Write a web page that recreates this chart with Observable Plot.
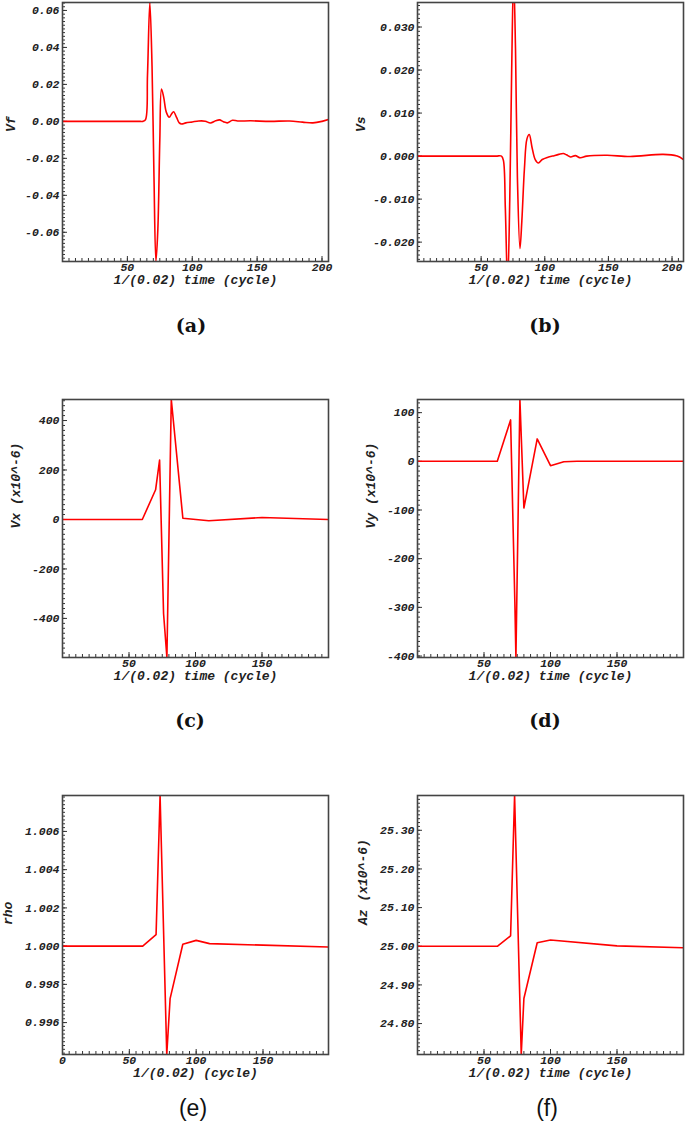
<!DOCTYPE html>
<html>
<head>
<meta charset="utf-8">
<script src="https://cdn.jsdelivr.net/npm/d3@7"></script>
<script src="https://cdn.jsdelivr.net/npm/@observablehq/plot@0.6"></script>
<style>
  body { margin: 0; background: #fff; }
  #wrap { position: relative; width: 685px; height: 1133px; overflow: hidden; }
  .panel { position: absolute; }
  .tag { position: absolute; transform: translate(-50%, -50%); color: #111; white-space: nowrap; }
  .serif { font-family: "DejaVu Serif", serif; font-size: 19px; font-weight: bold; }
  .sans { font-family: "Liberation Sans", Arial, sans-serif; font-size: 23px; }
</style>
</head>
<body>
<div id="wrap"></div>
<script>
// ---- data ----
const vfX = [0, 20, 40, 55, 60, 62, 64, 65.5, 67.3, 69, 70.5, 72, 73.5, 75, 76.3, 78, 80, 82.3, 84, 85.6, 88, 90, 91.8, 95, 100, 105, 110, 114, 118, 121, 124, 127, 131, 135, 145, 160, 175, 185, 193, 200, 205];
const vfY = [0, 0, 0, 0, 0, 0, 0.001, 0.025, 0.0643, 0.03, -0.03, -0.0758, -0.058, -0.01, 0.0175, 0.013, 0.005, 0.0022, 0.004, 0.0052, 0.002, -0.0008, -0.0014, -0.0008, -0.0003, 0.0002, 0.0001, -0.0009, 0.0003, 0.0008, -0.0002, -0.0008, 0.0006, 0.0002, 0.0003, 0.0, 0.0002, -0.0004, -0.0008, 0.0, 0.001];

const vsX = [0, 20, 40, 55, 62, 66, 67.5, 69, 70.8, 72.5, 74, 75.5, 77, 78.5, 80.5, 82, 84, 86, 87.8, 90, 92.5, 95, 98, 102, 106, 111, 114.6, 117, 120.3, 124, 128, 133, 149, 167, 193, 204, 209];
const vsY = [0, 0, 0, 0, 0, 0, -0.001, -0.012, -0.03, -0.01, 0.02, 0.042, 0.025, -0.005, -0.0215, -0.015, -0.003, 0.004, 0.005, 0.002, -0.0008, -0.0016, -0.0008, -0.0003, 0.0, 0.0004, 0.0006, 0.0003, -0.0002, 0.0001, -0.0004, 0.0, 0.0002, -0.0001, 0.0004, 0.0, -0.0008];

const vxX = [0, 60, 70, 73, 76, 78.5, 81.8, 90.5, 110, 150, 200];
const vxY = [0, 0, 120, 240, -381, -558, 485, 5, -5, 8, 0];

const vyX = [0, 60, 70, 73.2, 74, 77, 80, 90, 100, 110, 120, 200];
const vyY = [0, 0, 85, -290, -403, 127, -96, 46, -9, -1, 0, 0];

const rhoX = [0, 60, 70, 73, 78, 80.5, 90, 100, 110, 150, 199];
const rhoY = [1.0, 1.0, 1.0006, 1.00788, 0.99433, 0.99725, 1.0001, 1.0003, 1.00013, 1.00005, 0.99995];

const azX = [0, 60, 70, 73, 78, 80, 90, 100, 150, 200];
const azY = [25.0, 25.0, 25.027, 25.39, 24.72, 24.865, 25.009, 25.016, 25.001, 24.996];

const ticksVf = [-0.06, -0.04, -0.02, 0, 0.02, 0.04, 0.06];
const ticksVs = [-0.02, -0.01, 0, 0.01, 0.02, 0.03];
const ticksVx = [-400, -200, 0, 200, 400];
const ticksVy = [-400, -300, -200, -100, 0, 100];
const ticksRho = [0.996, 0.998, 1.0, 1.002, 1.004, 1.006];
const ticksAz = [24.8, 24.9, 25.0, 25.1, 25.2, 25.3];
const xTicksTop = [50, 100, 150, 200];
const xTicksLow = [50, 100, 150];
const xTicksRho = [0, 50, 100, 150];

const xLabelTime = "1/(0.02) time (cycle)";
const xLabelRho = "1/(0.02) (cycle)";

// ---- drawing ----
const wrap = document.getElementById("wrap");
const range = (a, b, s) => { const out = []; for (let v = a; v <= b + s * 1e-6; v += s) out.push(+v.toFixed(8)); return out; };

function panel(o) {
  const data = o.xs.map((x, i) => ({x, y: o.ys[i]}));
  const chart = Plot.plot({
    width: o.width, height: o.height,
    marginLeft: o.ml, marginRight: o.mr, marginTop: o.mt, marginBottom: o.mb,
    x: {domain: o.xDomain},
    y: {domain: o.yDomain},
    style: {fontFamily: "'Liberation Mono', 'DejaVu Sans Mono', monospace", fontSize: "11.5px", fontWeight: "bold", fontStyle: "italic", color: "#222", background: "#fff", overflow: "visible"},
    marks: [
      Plot.axisX(o.xTicks, {tickSize: 0, tickPadding: 1, label: null, tickFormat: d => String(d)}),
      Plot.axisX(range(o.xDomain[0], o.xDomain[1], 5), {tickSize: -3, text: null, label: null, stroke: "#333"}),
      Plot.axisX(o.xTicks, {tickSize: -5, text: null, label: null, stroke: "#333"}),
      Plot.axisY(o.yTicks, {tickSize: 0, tickPadding: 3, label: null, tickFormat: o.yFmt}),
      Plot.axisY(range(Math.ceil(o.yDomain[0] / o.yMinor) * o.yMinor, o.yDomain[1], o.yMinor), {tickSize: -3, text: null, label: null, stroke: "#333"}),
      Plot.axisY(o.yTicks, {tickSize: -5, text: null, label: null, stroke: "#333"}),
      Plot.line(data, {x: "x", y: "y", stroke: "#f00", strokeWidth: 1.6, curve: o.curve || "linear", clip: true}),
      Plot.frame({stroke: "#444", strokeWidth: 1.6}),
      Plot.text([o.ylabel], {frameAnchor: "left", dx: o.ylDx, rotate: -90, fontSize: 13}),
      Plot.text([o.xlabel], {frameAnchor: "bottom", dy: o.xlDy, fontSize: 13})
    ]
  });
  const div = document.createElement("div");
  div.className = "panel";
  div.style.left = o.left + "px";
  div.style.top = o.top + "px";
  div.appendChild(chart);
  wrap.appendChild(div);
  const tag = document.createElement("div");
  tag.className = "tag " + o.tagClass;
  tag.textContent = o.tag;
  tag.style.left = o.tagX + "px";
  tag.style.top = o.tagY + "px";
  wrap.appendChild(tag);
}

panel({left: 0, top: 0, width: 340, height: 300, ml: 62, mr: 12, mt: 2, mb: 39,
  xs: vfX, ys: vfY, xDomain: [0, 205], yDomain: [-0.0758, 0.0643], curve: "catmull-rom",
  xTicks: xTicksTop, yTicks: ticksVf, yFmt: d => d.toFixed(2), yMinor: 0.002,
  ylabel: "Vf", ylDx: -52, xlabel: xLabelTime, xlDy: 22,
  tag: "(a)", tagClass: "serif", tagX: 191, tagY: 325});

panel({left: 340, top: 0, width: 345, height: 300, ml: 77, mr: 2, mt: 2, mb: 39,
  xs: vsX, ys: vsY, xDomain: [0, 209], yDomain: [-0.0245, 0.0357], curve: "catmull-rom",
  xTicks: xTicksTop, yTicks: ticksVs, yFmt: d => d.toFixed(3), yMinor: 0.001,
  ylabel: "Vs", ylDx: -57, xlabel: xLabelTime, xlDy: 22,
  tag: "(b)", tagClass: "serif", tagX: 545, tagY: 325});

panel({left: 0, top: 380, width: 340, height: 310, ml: 62, mr: 12, mt: 19, mb: 33,
  xs: vxX, ys: vxY, xDomain: [0, 200], yDomain: [-558, 485],
  xTicks: xTicksLow, yTicks: ticksVx, yFmt: d => String(d), yMinor: 20,
  ylabel: "Vx (x10^-6)", ylDx: -47, xlabel: xLabelTime, xlDy: 22,
  tag: "(c)", tagClass: "serif", tagX: 190, tagY: 720});

panel({left: 340, top: 380, width: 345, height: 310, ml: 77, mr: 2, mt: 19, mb: 33,
  xs: vyX, ys: vyY, xDomain: [0, 200], yDomain: [-403, 127],
  xTicks: xTicksLow, yTicks: ticksVy, yFmt: d => String(d), yMinor: 10,
  ylabel: "Vy (x10^-6)", ylDx: -47, xlabel: xLabelTime, xlDy: 22,
  tag: "(d)", tagClass: "serif", tagX: 545, tagY: 720});

panel({left: 0, top: 780, width: 340, height: 300, ml: 62, mr: 12, mt: 15, mb: 26,
  xs: rhoX, ys: rhoY, xDomain: [0, 199], yDomain: [0.99433, 1.00788],
  xTicks: xTicksRho, yTicks: ticksRho, yFmt: d => d.toFixed(3), yMinor: 0.0002,
  ylabel: "rho", ylDx: -55, xlabel: xLabelRho, xlDy: 22,
  tag: "(e)", tagClass: "sans", tagX: 193, tagY: 1108});

panel({left: 340, top: 780, width: 345, height: 300, ml: 77, mr: 2, mt: 15, mb: 26,
  xs: azX, ys: azY, xDomain: [0, 200], yDomain: [24.72, 25.39],
  xTicks: xTicksLow, yTicks: ticksAz, yFmt: d => d.toFixed(2), yMinor: 0.01,
  ylabel: "Az (x10^-6)", ylDx: -55, xlabel: xLabelTime, xlDy: 22,
  tag: "(f)", tagClass: "sans", tagX: 547, tagY: 1108});
</script>
</body>
</html>
